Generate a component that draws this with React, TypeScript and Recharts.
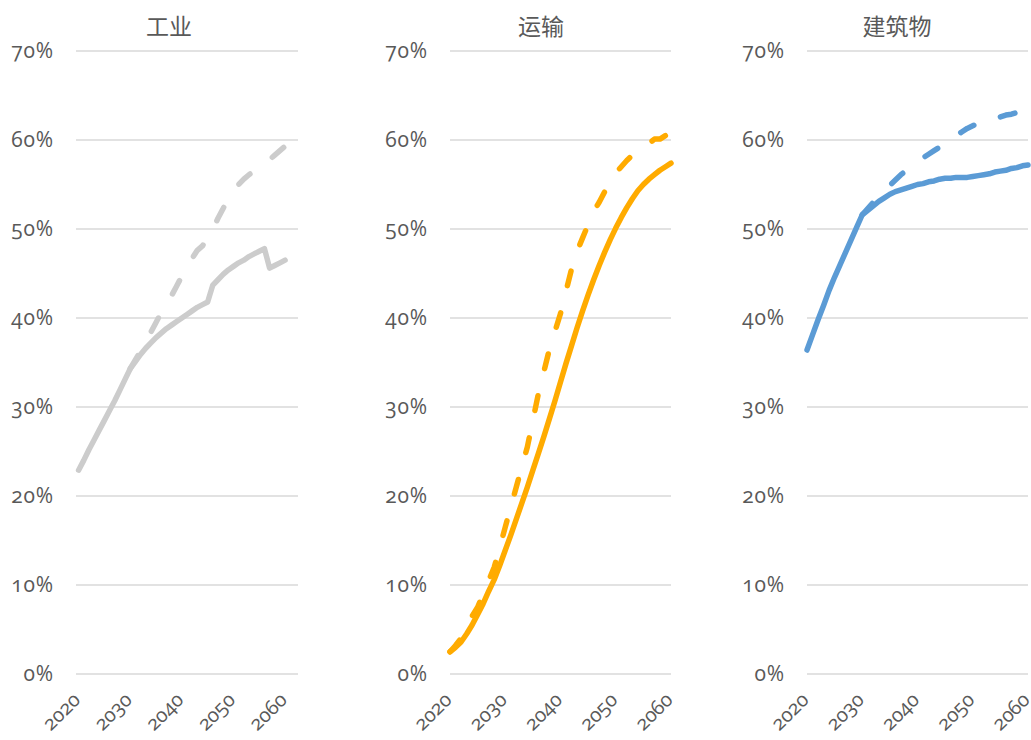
import { LineChart, Line, XAxis, YAxis, CartesianGrid } from "recharts";

const years = [
  2020, 2021, 2022, 2023, 2024, 2025, 2026, 2027, 2028, 2029,
  2030, 2031, 2032, 2033, 2034, 2035, 2036, 2037, 2038, 2039,
  2040, 2041, 2042, 2043, 2044, 2045, 2046, 2047, 2048, 2049,
  2050, 2051, 2052, 2053, 2054, 2055, 2056, 2057, 2058, 2059, 2060,
];

// 工业
const industrySolid = [
  22.9, 24.0, 25.2, 26.3, 27.4, 28.5, 29.6, 30.7, 31.9, 33.1,
  34.3, 35.1, 35.9, 36.6, 37.2, 37.8, 38.3, 38.8, 39.2, 39.6,
  40.0, 40.4, 40.8, 41.2, 41.5, 41.8, 43.7, 44.3, 44.9, 45.4,
  45.8, 46.2, 46.5, 46.9, 47.2, 47.5, 47.8, 45.6, 45.9, 46.2, 46.5,
];
const industryDashed = [
  null, null, null, null, null, null, null, null, null, null,
  34.3, 35.3, 36.3, 37.3, 38.4, 39.5, 40.6, 41.6, 42.5, 43.6,
  44.7, 45.7, 46.7, 47.6, 48.1, 49.0, 50.0, 51.2, 52.3, 53.5,
  54.4, 55.0, 55.6, 56.1, 56.5, 56.9, 57.3, 57.8, 58.3, 58.8, 59.3,
];

// 运输
const transportSolid = [
  2.5, 3.0, 3.6, 4.5, 5.5, 6.7, 7.9, 9.3, 10.6, 12.2,
  13.9, 15.6, 17.4, 19.2, 21.0, 22.9, 24.8, 26.7, 28.7, 30.7,
  32.8, 34.9, 36.9, 38.9, 40.8, 42.6, 44.3, 45.9, 47.4, 48.8,
  50.1, 51.3, 52.4, 53.4, 54.3, 55.0, 55.6, 56.1, 56.6, 57.0, 57.4,
];
const transportDashed = [
  2.5, 3.2, 4.0, 5.2, 6.5, 7.5, 9.0, 10.5, 12.0, 14.2,
  16.5, 18.8, 21.0, 23.3, 25.5, 28.5, 31.5, 34.0, 36.5, 38.5,
  40.5, 43.0, 45.5, 47.5, 49.0, 50.5, 52.0, 53.0, 54.2, 55.3,
  56.3, 57.0, 57.7, 58.3, 58.8, 59.2, 59.6, 60.1, 60.1, 60.5, 61.2,
];

// 建筑物
const buildingSolid = [
  36.4, 38.1, 39.8, 41.4, 43.1, 44.6, 46.0, 47.4, 48.8, 50.2,
  51.6, 52.1, 52.6, 53.1, 53.5, 53.9, 54.2, 54.4, 54.6, 54.8,
  55.0, 55.1, 55.3, 55.4, 55.6, 55.7, 55.7, 55.8, 55.8, 55.8,
  55.9, 56.0, 56.1, 56.2, 56.4, 56.5, 56.6, 56.8, 56.9, 57.1, 57.2,
];
const buildingDashed = [
  null, null, null, null, null, null, null, null, null, null,
  51.6, 52.3, 53.0, 53.6, 54.3, 54.9, 55.5, 56.1, 56.6, 57.1,
  57.6, 58.0, 58.4, 58.8, 59.2, 59.6, 60.1, 60.5, 60.9, 61.3,
  61.6, 61.9, 62.1, 62.3, 62.5, 62.6, 62.8, 62.9, 63.1, 63.3, 63.4,
];

const yTicks = [0, 10, 20, 30, 40, 50, 60, 70];
const xTicks = [2020, 2030, 2040, 2050, 2060];

const TEXT = "#595959";
const FONT = "'Open Sans', 'Noto Sans', sans-serif";

const XTick = ({ x, y, payload }: any) => {
  const ax = x + 3;
  const ay = y + 19;
  return (
    <text
      x={ax}
      y={ay}
      transform={`rotate(-45, ${ax}, ${ay})`}
      textAnchor="end"
      fill={TEXT}
      fontSize={20}
      fontFamily={FONT}
      style={{ fontVariantNumeric: "oldstyle-nums" }}
    >
      {payload.value}
    </text>
  );
};

interface PanelProps {
  title: string;
  solid: (number | null)[];
  dashed: (number | null)[];
  color: string;
  left: number;
  width: number;
  yWidth: number;
  marginRight: number;
  xDomain: [number, number];
  titleCenter: number;
}

function Panel({ title, solid, dashed, color, left, width, yWidth, marginRight, xDomain, titleCenter }: PanelProps) {
  const data = years.map((yr, i) => ({ year: yr, solid: solid[i], dashed: dashed[i] }));
  return (
    <div style={{ position: "absolute", left, top: 0, width, height: 740 }}>
      <div
        style={{
          position: "absolute",
          left: titleCenter - left - 100,
          width: 200,
          top: 11,
          textAlign: "center",
          fontSize: 23,
          lineHeight: "28px",
          color: TEXT,
          fontFamily: "'Noto Sans CJK SC', sans-serif",
        }}
      >
        {title}
      </div>
      <LineChart width={width} height={740} data={data} margin={{ top: 51, right: marginRight, bottom: 6, left: 0 }}>
        <CartesianGrid vertical={false} stroke="#d9d9d9" strokeWidth={1.5} />
        <XAxis
          dataKey="year"
          type="number"
          domain={xDomain}
          ticks={xTicks}
          interval={0}
          axisLine={false}
          tickLine={false}
          height={60}
          tick={<XTick />}
        />
        <YAxis
          domain={[0, 70]}
          ticks={yTicks}
          axisLine={false}
          tickLine={false}
          tickSize={0}
          tickMargin={22}
          width={yWidth}
          tickFormatter={(v: number) => `${v}%`}
          tick={{
            fill: TEXT,
            fontSize: 21,
            fontFamily: FONT,
            letterSpacing: 0.8,
            style: { fontVariantNumeric: "oldstyle-nums" },
          }}
        />
        <Line
          type="linear"
          dataKey="solid"
          stroke={color}
          strokeWidth={5.5}
          strokeLinecap="round"
          strokeLinejoin="round"
          dot={false}
          isAnimationActive={false}
        />
        <Line
          type="linear"
          dataKey="dashed"
          stroke={color}
          strokeWidth={5.5}
          strokeDasharray="15 28"
          strokeLinecap="round"
          strokeLinejoin="round"
          dot={false}
          isAnimationActive={false}
        />
      </LineChart>
    </div>
  );
}

export default function App() {
  return (
    <div style={{ position: "absolute", left: 0, top: 0, width: 1031, height: 740, background: "#fff" }}>
      <Panel
        title="工业"
        solid={industrySolid}
        dashed={industryDashed}
        color="#cccccc"
        left={0}
        width={310}
        yWidth={76}
        marginRight={12}
        xDomain={[2019.5, 2062.5]}
        titleCenter={169}
      />
      <Panel
        title="运输"
        solid={transportSolid}
        dashed={transportDashed}
        color="#ffab00"
        left={372}
        width={311}
        yWidth={78}
        marginRight={12}
        xDomain={[2020, 2060]}
        titleCenter={541}
      />
      <Panel
        title="建筑物"
        solid={buildingSolid}
        dashed={buildingDashed}
        color="#5b9bd5"
        left={730}
        width={301}
        yWidth={77}
        marginRight={3}
        xDomain={[2020, 2060]}
        titleCenter={897}
      />
    </div>
  );
}
